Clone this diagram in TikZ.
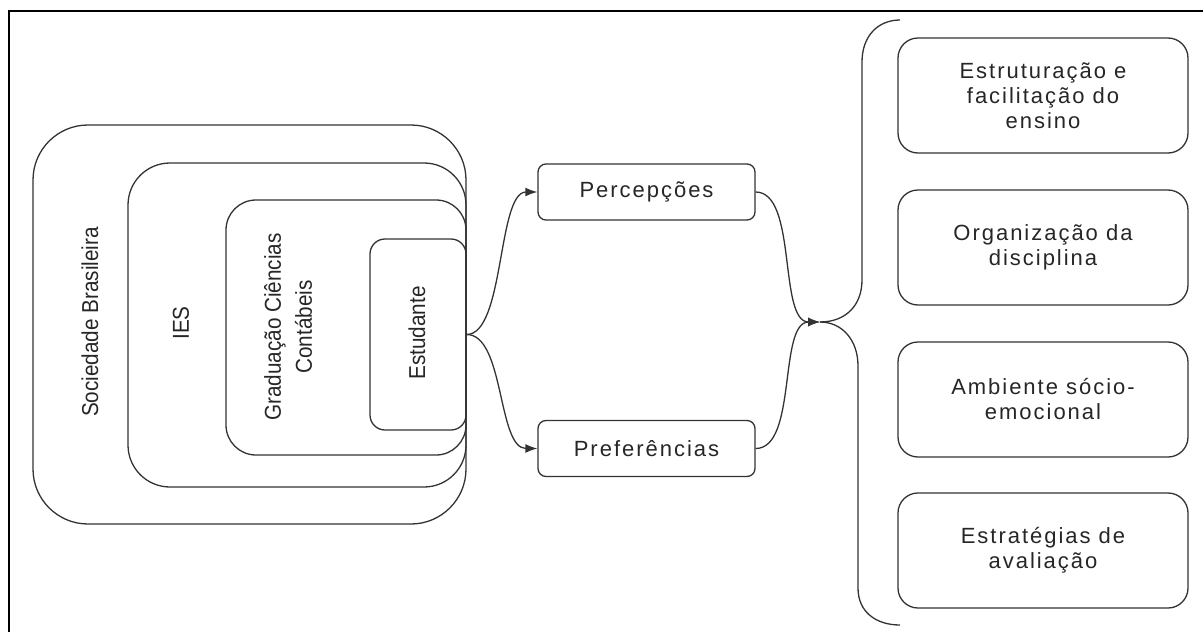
\documentclass[tikz,border=0pt]{standalone}
\usepackage{fontspec}
\setmainfont{Liberation Sans}
\newfontfamily\lsfont{Liberation Sans}[LetterSpace=9]
\newfontfamily\condfont{Liberation Sans}[FakeStretch=0.9]
\usetikzlibrary{arrows.meta,fit}
\begin{document}
\begin{tikzpicture}[x=1pt,y=-1pt,
  line/.style={draw=black!80,line width=1.3pt},
  nest/.style={line,inner sep=0pt,fit={#1}},
  vtext/.style={rotate=90,font=\condfont\fontsize{23}{31}\selectfont,text=black!85,align=center,inner sep=0pt},
  smallbox/.style={line,rounded corners=8pt,minimum width=217pt,minimum height=56pt,font=\lsfont\fontsize{22}{26}\selectfont,text=black!85,inner sep=0pt},
  bigbox/.style={line,rounded corners=20pt,minimum width=290pt,minimum height=115pt,font=\lsfont\fontsize{22}{25}\selectfont,text=black!85,align=center,inner sep=0pt},
  conn/.style={line,-{Latex[length=12pt,width=9pt]}},
  brace/.style={line}]
\useasboundingbox (0,0) rectangle (1203,632);
% frame
\draw[line width=2pt,black] (9,632) -- (9,11) -- (1203,11);
% nested boxes
\node[nest={(33,125)(466,524)},rounded corners=55pt] (soc) {};
\node[nest={(128,163)(466,487)},rounded corners=42pt] (ies) {};
\node[nest={(226,200)(466,455)},rounded corners=30pt] (grad) {};
\node[nest={(370,239)(466,430)},rounded corners=15pt] (est) {};
\node[vtext] (socT) at (90,322) {Sociedade Brasileira};
\node[vtext] (iesT) at (181,323) {IES};
\node[vtext] (gradT) at (288,327) {Graduação Ciências\\Contábeis};
\node[vtext] (estT) at (417,333) {Estudante};
% middle boxes
\node[smallbox] (perc) at (646.5,192) {Percepções};
\node[smallbox] (pref) at (646.5,448.5) {Preferências};
\coordinate (j) at (820,322);
\draw[conn] (est.east) .. controls +(38,0) and +(-40,0) .. (perc.west);
\draw[conn] (est.east) .. controls +(38,0) and +(-40,0) .. (pref.west);
\draw[conn] (perc.east) .. controls +(42,0) and +(-42,0) .. (j);
\draw[conn] (pref.east) .. controls +(42,0) and +(-42,0) .. (j);
% brace
\coordinate (bt) at (900,20);
\coordinate (bb) at (900,625);
\draw[brace] (j) .. controls (846,322) and (862,305) .. (862,280) -- (862,62) .. controls (862,36) and (878,20) .. (bt);
\draw[brace] (j) .. controls (842,322) and (858,340) .. (858,366) -- (858,588) .. controls (858,612) and (876,625) .. (bb);
% right boxes
\node[bigbox] (b1) at (1043,95.5) {Estruturação e\\facilitação do\\ensino};
\node[bigbox] (b2) at (1043,247.5) {Organização da\\disciplina};
\node[bigbox] (b3) at (1043,399.5) {Ambiente sócio-\\emocional};
\node[bigbox] (b4) at (1043,550.5) {Estratégias de\\avaliação};
\end{tikzpicture}
\end{document}
